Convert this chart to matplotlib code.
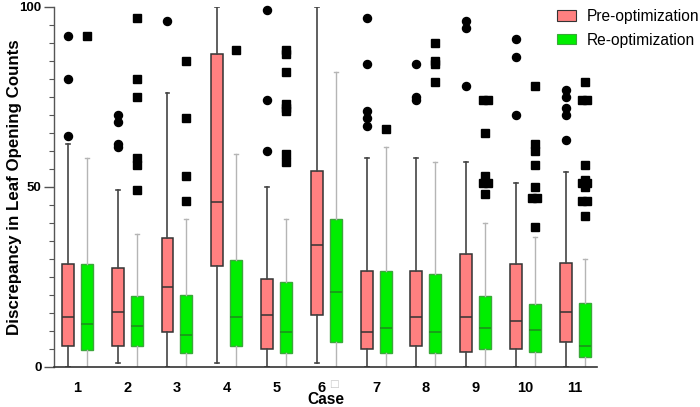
import matplotlib
matplotlib.use("Agg")
import matplotlib.pyplot as plt
from matplotlib.patches import Patch
from matplotlib.transforms import ScaledTranslation
from collections import Counter

plt.rcParams['font.family'] = ['Liberation Sans', 'DejaVu Sans']

# --- data ---
cases = ["1", "2", "3", "4", "5", "6", "7", "8", "9", "10", "11"]
yticks = [0, 50, 100]

pre_q1 = [5.9, 5.9, 9.6, 28.0, 4.9, 14.3, 4.9, 5.9, 4.2, 4.9, 6.9]
pre_med = [13.8, 15.3, 22.3, 45.8, 14.4, 33.8, 9.8, 13.8, 13.8, 12.9, 15.3]
pre_q3 = [28.7, 27.5, 35.9, 86.9, 24.5, 54.4, 26.7, 26.7, 31.3, 28.7, 28.9]
pre_lo = [0, 1, 0, 1, 0, 1, 0, 0, 0, 0, 0]
pre_hi = [62, 49, 76, 100, 50, 100, 58, 58, 57, 51, 54]
pre_out = [
    [92, 80, 64],
    [70, 68, 62, 61],
    [96],
    [],
    [99, 74, 60],
    [],
    [97, 84, 71, 69, 67],
    [84, 75, 74],
    [96, 94, 78],
    [91, 86, 70],
    [77, 75, 72, 70, 63],
]

re_q1 = [4.8, 5.9, 3.9, 5.9, 3.9, 6.9, 3.9, 3.9, 5.1, 4.2, 2.9]
re_med = [11.9, 11.3, 8.9, 13.8, 9.8, 20.8, 10.7, 9.8, 10.8, 10.4, 5.8]
re_q3 = [28.7, 19.6, 19.9, 29.7, 23.7, 41.2, 26.7, 25.7, 19.7, 17.5, 17.7]
re_lo = [0, 0, 0, 0, 0, 0, 0, 0, 0, 0, 0]
re_hi = [58, 37, 41, 59, 41, 82, 61, 57, 40, 36, 30]
re_out = [
    [92],
    [97, 80, 75, 58, 56, 49],
    [85, 69, 53, 46],
    [88],
    [88, 87, 82, 73, 72, 71, 59, 57],
    [],
    [66],
    [90, 85, 84, 79],
    [74, 74, 65, 53, 51, 51, 48],
    [78, 62, 60, 56, 50, 47, 47, 39],
    [79, 74, 74, 56, 52, 51, 51, 50, 46, 46, 42],
]


def make_stats(q1, med, q3, lo, hi):
    return [dict(q1=a, med=b, q3=c, whislo=d, whishi=e, fliers=[])
            for a, b, c, d, e in zip(q1, med, q3, lo, hi)]


fig = plt.figure(figsize=(7, 4.07), dpi=100)
ax = fig.add_axes([0.077, 0.0983, 0.776, 0.885])

x = list(range(1, len(cases) + 1))
off, bw = 0.19, 0.24
pre_pos = [p - off for p in x]
re_pos = [p + off for p in x]

pink, pink_edge = '#ff8080', '#333333'
green, green_edge = '#00ee00', '#3aa83a'

ax.bxp(make_stats(pre_q1, pre_med, pre_q3, pre_lo, pre_hi), positions=pre_pos,
       widths=bw, patch_artist=True, showfliers=False, capwidths=0.08,
       boxprops=dict(facecolor=pink, edgecolor=pink_edge, lw=1.1),
       medianprops=dict(color=pink_edge, lw=1.1),
       whiskerprops=dict(color='#444444', lw=1.2),
       capprops=dict(color='#444444', lw=1.2))
ax.bxp(make_stats(re_q1, re_med, re_q3, re_lo, re_hi), positions=re_pos,
       widths=bw, patch_artist=True, showfliers=False, capwidths=0.08,
       boxprops=dict(facecolor=green, edgecolor=green_edge, lw=1.0),
       medianprops=dict(color='#1f8a1f', lw=1.1),
       whiskerprops=dict(color='#b5b5b5', lw=1.0),
       capprops=dict(color='#b5b5b5', lw=1.0))


def draw_fliers(pos, outs, marker):
    # spread repeated values side by side
    for p, vals in zip(pos, outs):
        cnt = Counter(vals)
        seen = Counter()
        for v in vals:
            n = cnt[v]
            dx = (seen[v] - (n - 1) / 2) * 0.1
            seen[v] += 1
            ax.plot(p + dx, v, marker=marker, color='black', ms=5.8, ls='none',
                    clip_on=False)


draw_fliers(pre_pos, pre_out, 'o')
draw_fliers(re_pos, re_out, 's')

ax.set_xlim(0.528, 11.44)
ax.set_ylim(0, 100)
ax.set_xticks(x)
ax.set_xticklabels(cases, fontsize=10.5, fontweight='bold')
ax.tick_params(axis='x', length=0, pad=10)

# the reference shows a missing-glyph box after the "6"; "6□" is centred
lab6 = ax.get_xticklabels()[5]
lab6.set_transform(lab6.get_transform() +
                   ScaledTranslation(-4.5 / 100, 0, fig.dpi_scale_trans))
ax.text(6.05, -0.047, "\u25a1", transform=ax.get_xaxis_transform(),
        ha='left', va='center', fontsize=7.5, color='#c8c8c8',
        family=['DejaVu Sans'])

ax.set_yticks(yticks)
ax.set_yticks(range(0, 101, 5), minor=True)
ax.set_yticklabels([str(v) for v in yticks], fontsize=9.5, fontweight='bold',
                   family=['Liberation Sans Narrow', 'Liberation Sans'])
ax.tick_params(axis='y', which='major', length=7, color='#555555', width=1,
               pad=2)
ax.tick_params(axis='y', which='minor', length=3.5, color='#555555', width=0.8)

for s in ['top', 'right']:
    ax.spines[s].set_visible(False)
ax.spines['left'].set_color('#555555')
ax.spines['bottom'].set_color('#333333')
ax.spines['left'].set_linewidth(1.0)
ax.spines['bottom'].set_linewidth(1.2)

ax.set_ylabel("Discrepancy in Leaf Opening Counts", fontsize=12.2,
              fontweight='bold')
ax.yaxis.set_label_coords(-0.058, 0.5)
ax.set_xlabel("Case", fontsize=11.2, fontweight='bold')
ax.xaxis.set_label_coords(0.5, -0.07)

handles = [Patch(facecolor=pink, edgecolor=pink_edge, lw=0.8),
           Patch(facecolor=green, edgecolor=green_edge, lw=0.8)]
fig.legend(handles, ["Pre-optimization", "Re-optimization"],
           loc='upper left', bbox_to_anchor=(557 / 700, 1 - 9 / 407),
           frameon=False, borderpad=0, borderaxespad=0,
           fontsize=11.2, handlelength=1.25, handleheight=0.68,
           labelspacing=0.55, handletextpad=0.65)

fig.savefig("out.png", dpi=100)
